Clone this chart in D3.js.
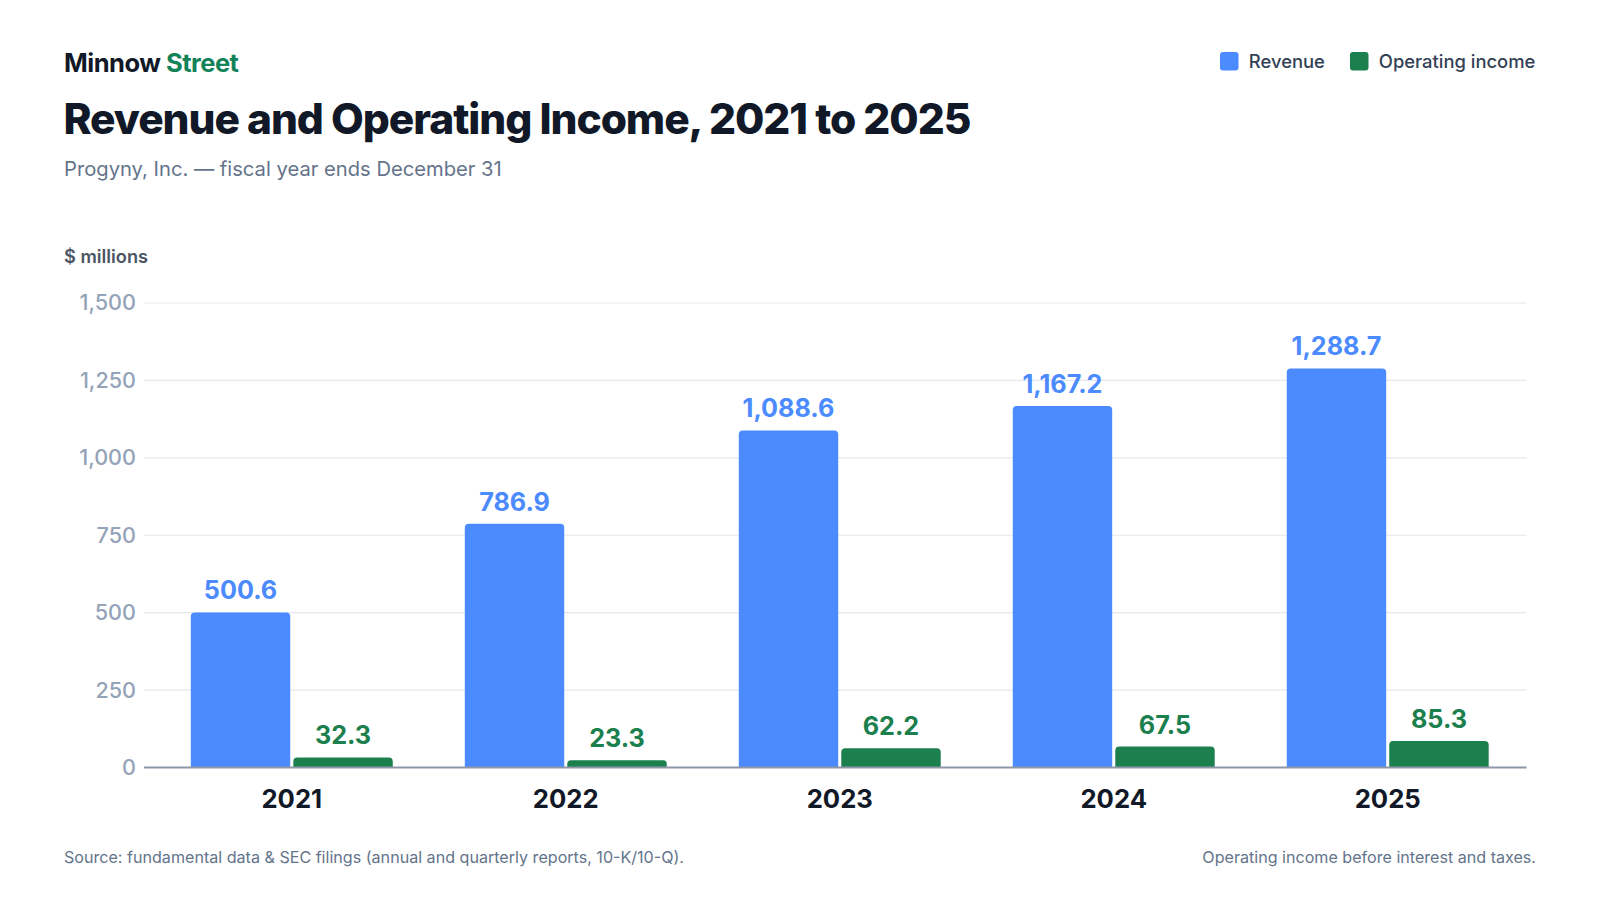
<!DOCTYPE html>
<html><head><meta charset="utf-8">
<script src="https://cdn.jsdelivr.net/npm/d3@7"></script>
<style>
html,body{margin:0;padding:0;background:#fff;}
svg{display:block;font-family:Inter,"Noto Sans",sans-serif;}
</style></head>
<body>
<svg id="chart" width="1600" height="900"></svg>
<script>
const years = ["2021","2022","2023","2024","2025"];
const revenue = [500.6, 786.9, 1088.6, 1167.2, 1288.7];
const operatingIncome = [32.3, 23.3, 62.2, 67.5, 85.3];
const yTicks = [0, 250, 500, 750, 1000, 1250, 1500];
const seriesNames = ["Revenue", "Operating income"];
const seriesColors = ["#4B8BFF", "#1C7F4E"];

const svg = d3.select("#chart");
const fmt = d3.format(",.1f");
const tickFmt = d3.format(",");

// header
const brand = svg.append("text").attr("x", 64).attr("y", 71.5)
  .attr("font-size", 25.5).attr("font-weight", 700).attr("letter-spacing", -0.5);
brand.append("tspan").attr("fill", "#111827").text("Minnow ");
brand.append("tspan").attr("fill", "#128259").text("Street");

const title = svg.append("text").attr("x", 63.5).attr("y", 134)
  .attr("font-size", 43).attr("font-weight", 800).attr("letter-spacing", "-0.025em")
  .attr("fill", "#111827").text("Revenue and Operating Income, 2021 to 2025");
// scale font so the title spans the reference width
const tw = title.node().getComputedTextLength();
title.attr("font-size", 43 * 907 / tw);

svg.append("text").attr("x", 64).attr("y", 175.5)
  .attr("font-size", 20.2).attr("fill", "#64748B")
  .text("Progyny, Inc. — fiscal year ends December 31");

svg.append("text").attr("x", 64).attr("y", 263)
  .attr("font-size", 18.2).attr("font-weight", 600).attr("fill", "#4B5563")
  .text("$ millions");

// legend
const legendX = [1220, 1350];
seriesNames.forEach((n, i) => {
  const g = svg.append("g").attr("transform", `translate(${legendX[i]},52)`);
  g.append("rect").attr("width", 18.5).attr("height", 18.5).attr("rx", 3)
    .attr("fill", seriesColors[i]);
  g.append("text").attr("x", 28.8).attr("y", 16).attr("font-size", 18.4)
    .attr("font-weight", 500).attr("fill", "#334155").text(n);
});

// scales
const plotLeft = 144, plotRight = 1526.5, plotTop = 303, plotBottom = 767.5;
const y = d3.scaleLinear().domain([0, 1500]).range([plotBottom, plotTop]);
const x0 = d3.scaleBand().domain(years).range([153, 1526.5])
  .paddingInner(0.263).paddingOuter(0.138);
const x1 = d3.scaleBand().domain(seriesNames).range([0, x0.bandwidth()]).paddingInner(0.03);

// grid
const grid = svg.append("g");
grid.selectAll("line").data(yTicks.filter(d => d > 0)).join("line")
  .attr("x1", plotLeft).attr("x2", plotRight)
  .attr("y1", d => y(d)).attr("y2", d => y(d))
  .attr("stroke", "#E5E7EB").attr("stroke-width", 1.2);

// y axis labels
const yAxis = svg.append("g").attr("transform", `translate(${plotLeft},0)`)
  .call(d3.axisLeft(y).tickValues(yTicks).tickFormat(tickFmt).tickSize(0).tickPadding(8));
yAxis.select(".domain").remove();
yAxis.selectAll("text").attr("font-size", 21.6).attr("font-weight", 500).attr("fill", "#94A3B8")
  .attr("font-family", "Inter, sans-serif");

// bars
const data = years.map((yr, i) => ({year: yr, vals: [revenue[i], operatingIncome[i]]}));
function topRounded(x, yTop, w, h, r) {
  r = Math.min(r, h / 2, w / 2);
  return `M${x},${yTop + h}V${yTop + r}Q${x},${yTop} ${x + r},${yTop}H${x + w - r}Q${x + w},${yTop} ${x + w},${yTop + r}V${yTop + h}Z`;
}
const groups = svg.append("g").selectAll("g").data(data).join("g")
  .attr("transform", d => `translate(${x0(d.year)},0)`);
groups.each(function(d) {
  const g = d3.select(this);
  d.vals.forEach((v, i) => {
    const bx = x1(seriesNames[i]);
    const bw = x1.bandwidth();
    g.append("path").attr("d", topRounded(bx, y(v), bw, y(0) - y(v), 4))
      .attr("fill", seriesColors[i]);
    g.append("text").attr("x", bx + bw / 2).attr("y", y(v) - 13)
      .attr("text-anchor", "middle").attr("font-size", 25.2).attr("font-weight", 750)
      .attr("fill", seriesColors[i]).text(fmt(v));
  });
});

// baseline
svg.append("line").attr("x1", plotLeft).attr("x2", plotRight)
  .attr("y1", y(0)).attr("y2", y(0)).attr("stroke", "#8E97A8").attr("stroke-width", 2);

// x labels
const xAxis = svg.append("g").attr("transform", `translate(0,${plotBottom})`)
  .call(d3.axisBottom(x0).tickSize(0).tickPadding(22));
xAxis.select(".domain").remove();
xAxis.selectAll("text").attr("font-size", 25.7).attr("font-weight", 700)
  .attr("fill", "#111827").attr("font-family", "Inter, sans-serif");

// footer
svg.append("text").attr("x", 64).attr("y", 862.5).attr("font-size", 16.1).attr("fill", "#64748B")
  .text("Source: fundamental data & SEC filings (annual and quarterly reports, 10-K/10-Q).");
svg.append("text").attr("x", 1536).attr("y", 862.5).attr("text-anchor", "end")
  .attr("font-size", 16.1).attr("fill", "#64748B")
  .text("Operating income before interest and taxes.");
</script>
</body></html>
